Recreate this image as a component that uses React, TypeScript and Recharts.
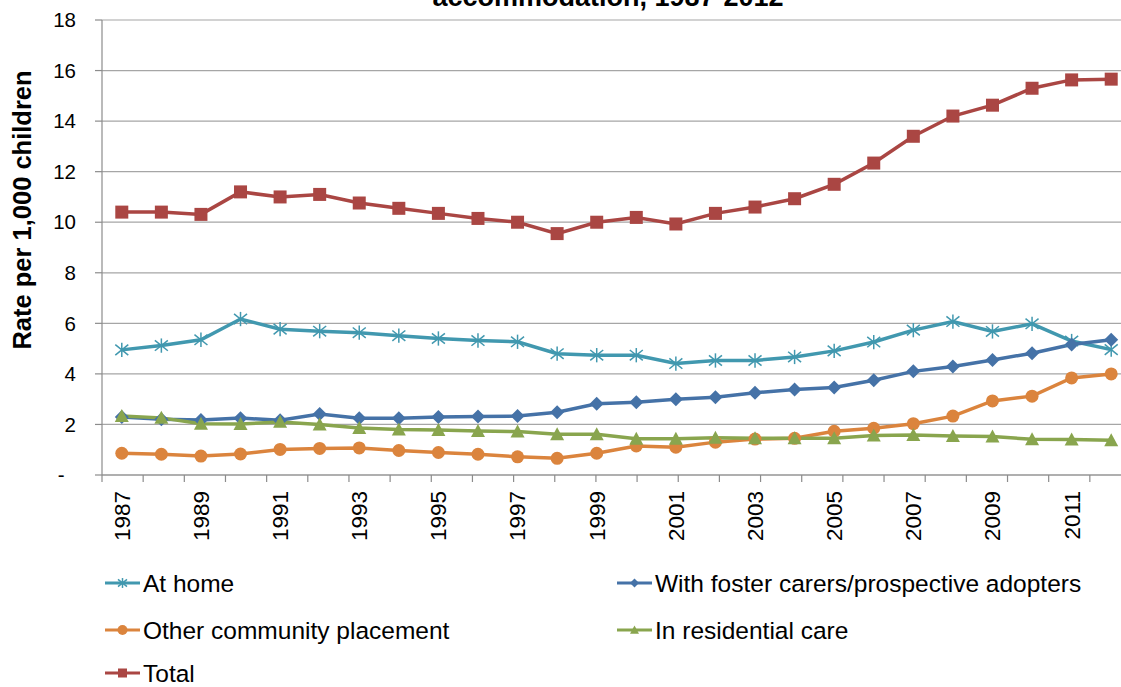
import React from 'react';
import { LineChart, Line, XAxis, YAxis, CartesianGrid, Legend } from 'recharts';

const years = ['1987','1988','1989','1990','1991','1992','1993','1994','1995','1996','1997','1998','1999','2000','2001','2002','2003','2004','2005','2006','2007','2008','2009','2010','2011','2012'];
const atHome = [4.95,5.12,5.35,6.17,5.77,5.69,5.63,5.51,5.40,5.32,5.27,4.80,4.74,4.74,4.41,4.53,4.53,4.67,4.91,5.26,5.73,6.07,5.68,5.98,5.30,4.96];
const foster = [2.29,2.21,2.18,2.25,2.17,2.41,2.25,2.25,2.29,2.31,2.33,2.48,2.82,2.88,3.00,3.08,3.25,3.38,3.46,3.75,4.10,4.29,4.55,4.82,5.16,5.35];
const otherCommunity = [0.86,0.82,0.75,0.83,1.01,1.05,1.07,0.97,0.89,0.82,0.72,0.66,0.86,1.15,1.10,1.30,1.42,1.45,1.73,1.85,2.03,2.33,2.93,3.12,3.84,4.00];
const residential = [2.33,2.26,2.03,2.02,2.10,2.00,1.86,1.80,1.78,1.74,1.72,1.61,1.61,1.43,1.43,1.47,1.45,1.45,1.45,1.56,1.58,1.54,1.52,1.41,1.40,1.37];
const total = [10.40,10.40,10.31,11.20,11.00,11.10,10.76,10.55,10.35,10.15,10.00,9.55,10.00,10.19,9.93,10.35,10.60,10.93,11.50,12.34,13.40,14.20,14.63,15.30,15.63,15.66];
const yTicks = [0,2,4,6,8,10,12,14,16,18];
const edgeTicks = Array.from({ length: years.length + 1 }, (_, i) => i);

const titleText = 'accommodation, 1987-2012';
const yLabel = 'Rate per 1,000 children';

type Shape = 'star' | 'diamond' | 'circle' | 'triangle' | 'square';
const series: { key: string; name: string; color: string; shape: Shape; values: number[] }[] = [
  { key: 'atHome', name: 'At home', color: '#4198AF', shape: 'star', values: atHome },
  { key: 'foster', name: 'With foster carers/prospective adopters', color: '#4572A7', shape: 'diamond', values: foster },
  { key: 'other', name: 'Other community placement', color: '#DB843D', shape: 'circle', values: otherCommunity },
  { key: 'residential', name: 'In residential care', color: '#89A54E', shape: 'triangle', values: residential },
  { key: 'total', name: 'Total', color: '#AA4643', shape: 'square', values: total },
];

const data = years.map((year, i) => {
  const row: Record<string, any> = { year };
  series.forEach((s) => { row[s.key] = s.values[i]; });
  return row;
});

const FONT = '"Liberation Sans", Arial, sans-serif';

function marker(shape: Shape, color: string, cx: number, cy: number, s: number, key?: any) {
  const h = s / 2;
  switch (shape) {
    case 'star':
      return (
        <g key={key} stroke={color} strokeWidth={1.5} fill="none">
          <line x1={cx - h} y1={cy - h * 0.8} x2={cx + h} y2={cy + h * 0.8} />
          <line x1={cx - h} y1={cy + h * 0.8} x2={cx + h} y2={cy - h * 0.8} />
          <line x1={cx} y1={cy - h * 1.1} x2={cx} y2={cy + h * 1.1} />
        </g>
      );
    case 'diamond':
      return <path key={key} d={`M${cx},${cy - h}L${cx + h},${cy}L${cx},${cy + h}L${cx - h},${cy}Z`} fill={color} />;
    case 'circle':
      return <circle key={key} cx={cx} cy={cy} r={h} fill={color} />;
    case 'triangle':
      return <path key={key} d={`M${cx},${cy - h}L${cx + h},${cy + h * 0.85}L${cx - h},${cy + h * 0.85}Z`} fill={color} />;
    case 'square':
    default:
      return <rect key={key} x={cx - h} y={cy - h} width={s} height={s} fill={color} />;
  }
}

const markerSize: Record<Shape, number> = { star: 13, diamond: 14, circle: 13, triangle: 14, square: 13 };

const makeDot = (shape: Shape, color: string) => (props: any) => {
  const { cx, cy, index } = props;
  if (cx == null || cy == null) return <g key={`e${index}`} />;
  return marker(shape, color, cx, cy, markerSize[shape], `d${index}`);
};

const XTick = (props: any) => {
  const { x, payload } = props;
  const y0 = 491;
  return (
    <text
      x={x}
      y={y0}
      transform={`rotate(-90, ${x}, ${y0})`}
      textAnchor="end"
      dy="0.35em"
      style={{ fontSize: 22.5, fontFamily: FONT }}
      fill="#000"
    >
      {payload.value}
    </text>
  );
};

const NoTick = () => <g />;

const legendPos = [
  { x: 105, y: 23 },
  { x: 617, y: 23 },
  { x: 105, y: 70 },
  { x: 617, y: 70 },
  { x: 105, y: 113 },
];

const LegendContent = () => (
  <svg width={1121} height={127} style={{ display: 'block' }}>
    {series.map((s, i) => {
      const p = legendPos[i];
      return (
        <g key={s.key}>
          <line x1={p.x} y1={p.y} x2={p.x + 35} y2={p.y} stroke={s.color} strokeWidth={3} />
          {marker(s.shape, s.color, p.x + 17.5, p.y, s.shape === 'circle' ? 10 : 9)}
          <text x={p.x + 38} y={p.y} dy="0.35em" fontSize={24.5} fontFamily={FONT} fill="#000">
            {s.name}
          </text>
        </g>
      );
    })}
  </svg>
);

export default function App() {
  return (
    <div style={{ position: 'absolute', left: 0, top: 0, width: 1121, height: 687, overflow: 'hidden', background: '#fff', fontFamily: FONT }}>
      <LineChart width={1140} height={687} data={data} margin={{ top: 20, right: 9, bottom: 132, left: 0 }}>
        <CartesianGrid xAxisId="cat" vertical={false} stroke="#A6A6A6" strokeWidth={1.2} />
        <XAxis
          xAxisId="cat"
          dataKey="year"
          scale="band"
          interval={1}
          height={79}
          axisLine={false}
          tickLine={false}
          tick={<XTick />}
        />
        <XAxis
          xAxisId="aEdges"
          type="number"
          domain={[0, years.length]}
          ticks={edgeTicks}
          height={1}
          tick={NoTick}
          tickSize={7}
          axisLine={{ stroke: '#8C8C8C', strokeWidth: 1.2 }}
          tickLine={{ stroke: '#8C8C8C', strokeWidth: 1.2 }}
          allowDataOverflow
        />
        <YAxis
          type="number"
          domain={[0, 18]}
          ticks={yTicks}
          width={102}
          tickSize={7}
          tickMargin={19}
          tickFormatter={(v: number) => (v === 0 ? '-\u00a0\u00a0' : String(v))}
          axisLine={{ stroke: '#8C8C8C', strokeWidth: 1.2 }}
          tickLine={{ stroke: '#8C8C8C', strokeWidth: 1.2 }}
          tick={{ fill: '#000', fontSize: 20.5, fontFamily: FONT }}
          label={{
            content: () => (
              <text
                x={22.5}
                y={210}
                transform="rotate(-90, 22.5, 210)"
                textAnchor="middle"
                dy="0.35em"
                fontSize={25.5}
                fontWeight="bold"
                fontFamily={FONT}
                fill="#000"
              >
                {yLabel}
              </text>
            ),
          }}
        />
        {series.map((s) => (
          <Line
            key={s.key}
            xAxisId="cat"
            dataKey={s.key}
            name={s.name}
            stroke={s.color}
            strokeWidth={3.5}
            dot={makeDot(s.shape, s.color)}
            activeDot={false}
            isAnimationActive={false}
          />
        ))}
        <Legend
          layout="vertical"
          align="center"
          verticalAlign="middle"
          content={LegendContent}
          wrapperStyle={{ position: 'absolute', left: 0, top: 560, width: 1121, height: 127 }}
        />
      </LineChart>
      <svg width={1121} height={30} style={{ position: 'absolute', left: 0, top: 0, pointerEvents: 'none' }}>
        <text x={608} y={6} textAnchor="middle" fontSize={27} fontWeight="bold" fontFamily={FONT} fill="#000">
          {titleText}
        </text>
      </svg>
    </div>
  );
}
